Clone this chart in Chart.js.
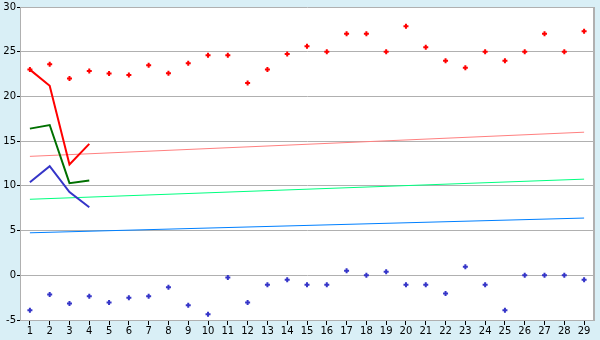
<!DOCTYPE html>
<html>
<head>
<meta charset="utf-8">
<script src="https://cdn.jsdelivr.net/npm/chart.js@4/dist/chart.umd.min.js"></script>
<style>
  html, body { margin: 0; padding: 0; background: #d9eff6; }
  #wrap { width: 600px; height: 340px; }
</style>
</head>
<body>
<div id="wrap"><canvas id="chart"></canvas></div>
<script>
// Categories 1..29
const labels = ['1','2','3','4','5','6','7','8','9','10','11','12','13','14','15',
  '16','17','18','19','20','21','22','23','24','25','26','27','28','29'];

// Scatter markers (upper red, lower blue)
const redPoints = [23.0, 23.6, 22.0, 22.85, 22.55, 22.4, 23.5, 22.6, 23.7, 24.6,
  24.6, 21.5, 23.0, 24.75, 25.6, 25.0, 27.0, 27.0, 25.0, 27.85,
  25.5, 24.0, 23.2, 25.0, 24.0, 25.0, 27.0, 25.0, 27.3];
const bluePoints = [-3.9, -2.15, -3.15, -2.35, -3.05, -2.5, -2.35, -1.35, -3.35, -4.35,
  -0.25, -3.05, -1.05, -0.5, -1.05, -1.05, 0.5, 0.0, 0.4, -1.05,
  -1.05, -2.05, 0.95, -1.05, -3.9, 0.0, 0.0, 0.0, -0.5];

// Thick lines over the first four categories
const redLine = [23.0, 21.2, 12.4, 14.7];
const greenLine = [16.4, 16.8, 10.3, 10.6];
const blueLine = [10.4, 12.2, 9.3, 7.6];

// Thin trend lines: start and end values
const pinkTrend = [13.3, 16.0];
const springTrend = [8.5, 10.75];
const azureTrend = [4.75, 6.4];

const yTicks = { min: -5, max: 30, step: 5 };

function trend(vals) {
  return [{ x: labels[0], y: vals[0] }, { x: labels[labels.length - 1], y: vals[1] }];
}

const plotBg = {
  id: 'plotBg',
  beforeDraw(chart) {
    const { ctx, chartArea: a } = chart;
    ctx.save();
    ctx.fillStyle = '#d9eff6';
    ctx.fillRect(0, 0, chart.width, chart.height);
    ctx.fillStyle = '#ffffff';
    ctx.fillRect(a.left, a.top, a.right - a.left, a.bottom - a.top);
    ctx.restore();
  },
  afterDraw(chart) {
    const { ctx, chartArea: a } = chart;
    ctx.save();
    ctx.strokeStyle = '#b0b0b0';
    ctx.lineWidth = 2;
    ctx.beginPath();
    ctx.moveTo(a.right, a.top);
    ctx.lineTo(a.right, a.bottom);
    ctx.stroke();
    ctx.restore();
  }
};

const font = { family: 'DejaVu Sans', size: 10 };

new Chart(document.getElementById('chart'), {
  type: 'line',
  data: {
    labels,
    datasets: [
      { data: redPoints, showLine: false, pointStyle: 'cross', pointRadius: 2.5,
        borderColor: '#ff0000', pointBorderWidth: 2 },
      { data: bluePoints, showLine: false, pointStyle: 'cross', pointRadius: 2.5,
        borderColor: '#3535c8', pointBorderWidth: 2 },
      { data: redLine, borderColor: '#ff0000', borderWidth: 2, pointRadius: 0 },
      { data: greenLine, borderColor: '#007000', borderWidth: 2, pointRadius: 0 },
      { data: blueLine, borderColor: '#3535c8', borderWidth: 2, pointRadius: 0 },
      { data: trend(pinkTrend), borderColor: '#ff8080', borderWidth: 1, pointRadius: 0 },
      { data: trend(springTrend), borderColor: '#00ff80', borderWidth: 1, pointRadius: 0 },
      { data: trend(azureTrend), borderColor: '#0080ff', borderWidth: 1, pointRadius: 0 }
    ]
  },
  options: {
    responsive: true,
    maintainAspectRatio: false,
    animation: false,
    layout: { padding: { top: 5, right: 5, left: 0, bottom: 0 } },
    plugins: { legend: { display: false }, tooltip: { enabled: false } },
    elements: { line: { tension: 0 } },
    scales: {
      x: {
        offset: true,
        grid: { offset: false, drawOnChartArea: false, tickLength: 5, tickColor: '#000' },
        border: { color: '#b0b0b0' },
        ticks: { color: '#000', font, padding: 0, maxRotation: 0, autoSkip: false },
        afterFit(s) { s.height = 20; }
      },
      y: {
        min: yTicks.min,
        max: yTicks.max,
        grid: { color: '#b0b0b0', tickLength: 3, tickColor: '#000' },
        border: { color: '#b0b0b0' },
        ticks: { stepSize: yTicks.step, color: '#000', font, padding: 1 },
        afterFit(s) { s.width = 20; }
      }
    }
  },
  plugins: [plotBg]
});
</script>
</body>
</html>
